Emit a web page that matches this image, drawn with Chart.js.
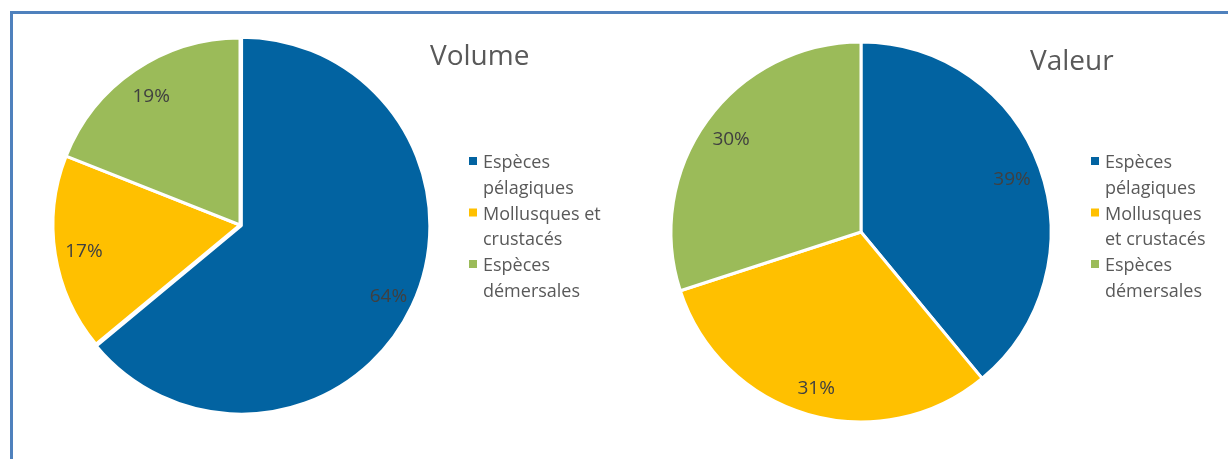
<!DOCTYPE html>
<html lang="fr">
<head>
<meta charset="utf-8">
<script src="https://cdn.jsdelivr.net/npm/chart.js@4.4.1/dist/chart.umd.min.js"></script>
<style>
  html, body { margin: 0; padding: 0; background: #ffffff; }
  body { width: 1228px; height: 459px; position: relative; overflow: hidden; }
  .frame {
    position: absolute; left: 10px; top: 11px; right: 0; bottom: 0;
    border-left: 3px solid #4F81BD; border-top: 3px solid #4F81BD;
  }
  .wrap { position: absolute; top: 0; height: 459px; }
  #wrapVol { left: 0; width: 640px; }
  #wrapVal { left: 640px; width: 588px; }
  canvas { display: block; }
</style>
</head>
<body>
<div class="frame"></div>
<div class="wrap" id="wrapVol"><canvas id="volume" width="640" height="459"></canvas></div>
<div class="wrap" id="wrapVal"><canvas id="valeur" width="588" height="459"></canvas></div>
<script>
// Catégories d'espèces (légende sur deux lignes)
const categories = ['Espèces pélagiques', 'Mollusques et crustacés', 'Espèces démersales'];
const legendLinesVolume = [['Espèces', 'pélagiques'], ['Mollusques et', 'crustacés'], ['Espèces', 'démersales']];
const legendLinesValeur = [['Espèces', 'pélagiques'], ['Mollusques', 'et crustacés'], ['Espèces', 'démersales']];

// Parts en pourcentage
const volumeShares = [64, 17, 19];
const valeurShares = [39, 31, 30];

const titles = ['Volume', 'Valeur'];
const sliceColors = ['#0263A1', '#FFC000', '#9BBB59'];

const FONT = '"Open Sans", "Liberation Sans", sans-serif';

// Titre, légende et étiquettes de pourcentage dessinés sur le canevas
const piePlugin = {
  id: 'pieDecor',
  afterDatasetsDraw(chart, args, opts) {
    const ctx = chart.ctx;
    const meta = chart.getDatasetMeta(0);
    const values = chart.data.datasets[0].data;

    // Étiquettes de pourcentage
    ctx.save();
    ctx.fillStyle = '#404040';
    ctx.font = '19px ' + FONT;
    ctx.textAlign = 'center';
    ctx.textBaseline = 'middle';
    meta.data.forEach((arc, i) => {
      const p = arc.getProps(['x', 'y', 'startAngle', 'endAngle', 'outerRadius'], true);
      const mid = (p.startAngle + p.endAngle) / 2;
      const off = arc.options.offset || 0;
      const d = off + p.outerRadius * 0.845;
      ctx.fillText(values[i] + '%', p.x + Math.cos(mid) * d, p.y + Math.sin(mid) * d + 2);
    });
    ctx.restore();

    // Titre
    ctx.save();
    ctx.fillStyle = '#595959';
    ctx.font = '28px ' + FONT;
    ctx.textAlign = 'left';
    ctx.textBaseline = 'alphabetic';
    ctx.fillText(opts.title, opts.titleX, opts.titleY);
    ctx.restore();

    // Légende
    ctx.save();
    ctx.font = '18px ' + FONT;
    ctx.textAlign = 'left';
    ctx.textBaseline = 'alphabetic';
    opts.legend.forEach((lines, i) => {
      const base = opts.legendY + i * 51.5;
      ctx.fillStyle = sliceColors[i];
      ctx.fillRect(opts.legendX, base - 11, 8, 8);
      ctx.fillStyle = '#595959';
      lines.forEach((t, j) => ctx.fillText(t, opts.legendX + 14, base + j * 25.5));
    });
    ctx.restore();
  }
};

function makePie(id, values, offsets, radius, padding, decor) {
  return new Chart(document.getElementById(id), {
    type: 'pie',
    data: {
      labels: categories,
      datasets: [{
        data: values,
        backgroundColor: sliceColors,
        borderColor: '#ffffff',
        borderWidth: 3,
        offset: offsets,
        radius: radius
      }]
    },
    options: {
      responsive: false,
      animation: false,
      events: [],
      layout: { padding: padding },
      plugins: {
        legend: { display: false },
        title: { display: false },
        tooltip: { enabled: false },
        pieDecor: decor
      }
    },
    plugins: [piePlugin]
  });
}

// Centre du camembert « Volume » : (240, 225)
makePie('volume', volumeShares, [6, 0, 0], 187,
  { left: 40, right: 200, top: 25, bottom: 34 },
  { title: titles[0], titleX: 430, titleY: 65, legend: legendLinesVolume, legendX: 469, legendY: 168 });

// Centre du camembert « Valeur » : (861, 232) soit (221, 232) localement
makePie('valeur', valeurShares, [0, 0, 0], 190,
  { left: 21, right: 167, top: 32, bottom: 27 },
  { title: titles[1], titleX: 390, titleY: 70, legend: legendLinesValeur, legendX: 451, legendY: 168 });
</script>
</body>
</html>
